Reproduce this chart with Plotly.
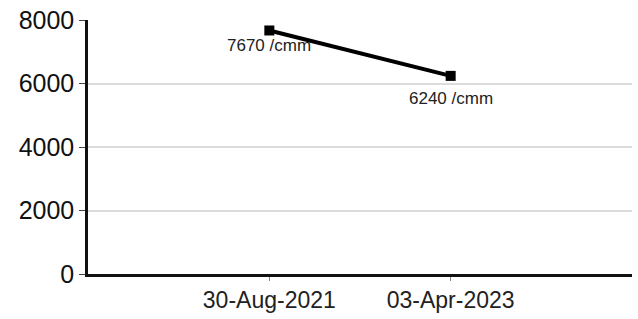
import plotly.graph_objects as go

dates = ["30-Aug-2021", "03-Apr-2023"]
values = [7670, 6240]
labels = ["7670 /cmm", "6240 /cmm"]
y_ticks = [0, 2000, 4000, 6000, 8000]

label_shifts = [-15, -23]

fig = go.Figure()
fig.add_trace(go.Scatter(
    x=dates, y=values, mode="lines+markers",
    line=dict(color="black", width=4),
    marker=dict(symbol="square", size=10, color="black"),
    hoverinfo="skip", showlegend=False,
))

for d, v, t, s in zip(dates, values, labels, label_shifts):
    fig.add_annotation(x=d, y=v, text=t, showarrow=False, yshift=s,
                       font=dict(family="Liberation Sans, Arial", size=17, color="#222"))

fig.update_layout(
    width=638, height=319,
    margin=dict(l=88, r=6, t=18, b=43),
    paper_bgcolor="white", plot_bgcolor="white",
    font=dict(family="Liberation Sans, Arial", color="#111"),
)
fig.update_xaxes(
    type="category", range=[-1, 2],
    showgrid=False, showline=True, linecolor="#111", linewidth=2.5,
    ticks="outside", ticklen=4, tickcolor="#888", tickwidth=1,
    tickfont=dict(size=23, color="#222"),
    zeroline=False, fixedrange=True,
)
fig.update_yaxes(
    range=[0, 8000], tickvals=y_ticks,
    showgrid=True, gridcolor="#dcdcdc", gridwidth=2,
    showline=True, linecolor="#111", linewidth=2.5,
    ticks="outside", ticklen=6, tickcolor="#444", tickwidth=1,
    tickfont=dict(size=25, color="#111"),
    ticklabeloverflow="allow",
    zeroline=False, fixedrange=True,
)

fig.write_html("out.html", config={"displayModeBar": False},
               post_script="document.body.style.margin='0';document.body.style.overflow='hidden';")
